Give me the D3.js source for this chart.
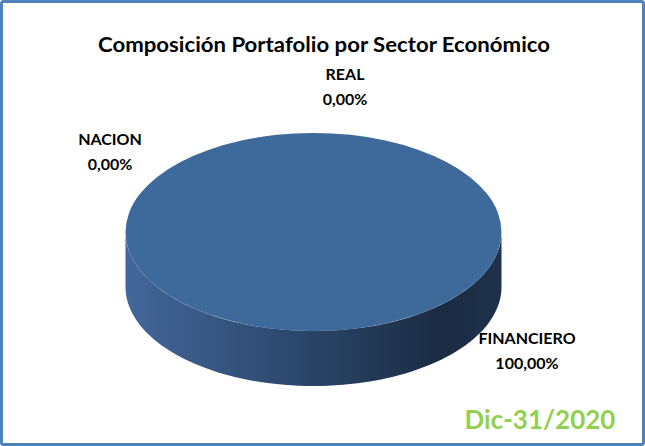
<!DOCTYPE html>
<html>
<head>
<meta charset="utf-8">
<script src="https://cdn.jsdelivr.net/npm/d3@7"></script>
<style>
  html, body { margin: 0; padding: 0; background: #fff; }
  svg { display: block; }
  text { font-family: Lato, "Open Sans", sans-serif; font-weight: bold; }
</style>
</head>
<body>
<div id="graphic"></div>
<script>
var sectors = ["FINANCIERO", "REAL", "NACION"];
var shares = [100, 0, 0];
var titleText = "Composición Portafolio por Sector Económico";
var dateText = "Dic-31/2020";

var graphic = new Object;

graphic.create = function() {
  var width = 645, height = 446;
  var cx = 313.5, cy = 232, rx = 188, ry = 99, depth = 55;

  var svg = d3.select("#graphic").append("svg").attr("width", width).attr("height", height);

  var defs = svg.append("defs");
  var grad = defs.append("linearGradient").attr("id", "side")
    .attr("x1", "0%").attr("x2", "100%").attr("y1", "0%").attr("y2", "0%");
  grad.append("stop").attr("offset", "0%").attr("stop-color", "#43679a");
  grad.append("stop").attr("offset", "45%").attr("stop-color", "#2c476c");
  grad.append("stop").attr("offset", "85%").attr("stop-color", "#1a2b42");
  grad.append("stop").attr("offset", "100%").attr("stop-color", "#1e324d");

  // outer frame
  svg.append("rect").attr("x", 1.5).attr("y", 1.5).attr("width", width - 3).attr("height", height - 3)
    .attr("rx", 2).attr("fill", "#fff").attr("stroke", "#4f81bd").attr("stroke-width", 3);

  svg.append("text").attr("x", 324).attr("y", 52).attr("text-anchor", "middle")
    .attr("font-size", 20).attr("fill", "#000").attr("textLength", 452)
    .attr("lengthAdjust", "spacingAndGlyphs").text(titleText);

  var data = sectors.map(function(s, i) { return { name: s, value: shares[i] }; });
  var pie = d3.pie().sort(null).value(function(d) { return d.value; })
    .startAngle(Math.PI / 2).endAngle(Math.PI / 2 + 2 * Math.PI);
  var arcs = pie(data);

  var color = d3.scaleOrdinal().domain(sectors).range(["#3d6a9b", "#c0504d", "#9bbb59"]);

  var pt = function(a, dy) {
    return [cx + rx * Math.sin(a), cy + dy - ry * Math.cos(a)];
  };

  var pie3d = svg.append("g");

  // sides (front half only)
  arcs.forEach(function(d) {
    if (d.endAngle - d.startAngle <= 0) return;
    var segs = [[Math.PI / 2, 3 * Math.PI / 2], [Math.PI / 2 + 2 * Math.PI, 3 * Math.PI / 2 + 2 * Math.PI]];
    segs.forEach(function(s) {
      var a0 = Math.max(d.startAngle, s[0]), a1 = Math.min(d.endAngle, s[1]);
      if (a1 <= a0) return;
      var n = 80, top = [], bot = [];
      d3.range(n + 1).forEach(function(k) {
        var a = a0 + (a1 - a0) * k / n;
        top.push(pt(a, 0));
        bot.push(pt(a, depth));
      });
      var ring = top.concat(bot.reverse());
      pie3d.append("path").attr("d", d3.line()(ring) + "Z")
        .attr("fill", "url(#side)");
    });
  });

  // top faces
  var arc = d3.arc().innerRadius(0).outerRadius(rx);
  pie3d.selectAll("path.top").data(arcs.filter(function(d) { return d.value > 0; }))
    .enter().append("path").attr("class", "top")
    .attr("transform", "translate(" + cx + "," + cy + ") scale(1," + (ry / rx) + ")")
    .attr("d", arc)
    .attr("fill", function(d) { return color(d.data.name); });

  // labels
  var fmt = function(v) { return v.toFixed(2).replace(".", ",") + "%"; };
  var labelPos = { "FINANCIERO": [527, 344], "REAL": [345, 80], "NACION": [110, 145] };
  var labels = svg.append("g").attr("text-anchor", "middle").attr("font-size", 16).attr("fill", "#000");
  data.forEach(function(d) {
    var p = labelPos[d.name];
    labels.append("text").attr("x", p[0]).attr("y", p[1]).text(d.name);
    labels.append("text").attr("x", p[0]).attr("y", p[1] + 25).text(fmt(d.value));
  });

  svg.append("text").attr("x", 540).attr("y", 429).attr("text-anchor", "middle")
    .attr("font-size", 26).attr("fill", "#92d050").text(dateText);
};

graphic.create();
</script>
</body>
</html>
